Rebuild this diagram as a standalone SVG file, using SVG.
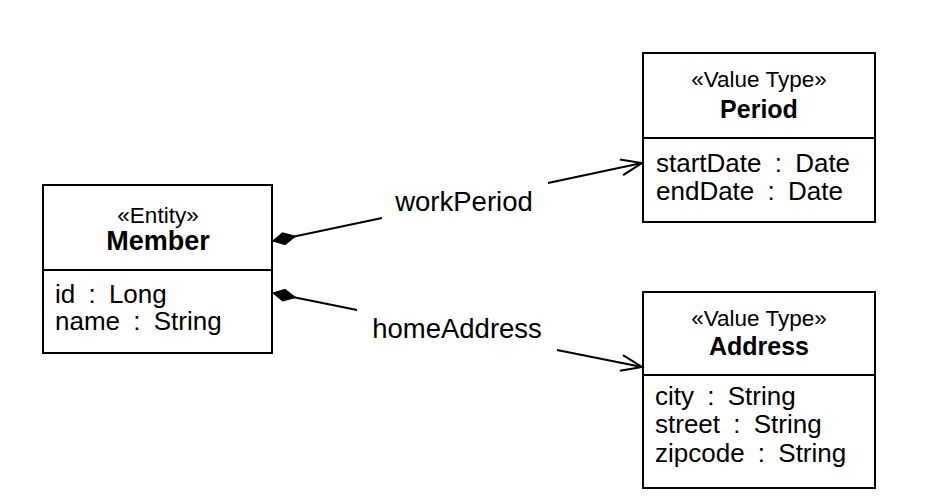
<svg xmlns="http://www.w3.org/2000/svg" width="930" height="499" viewBox="0 0 930 499">
<defs>
<style>
.box{fill:#fff;stroke:#000;stroke-width:2}
.div{stroke:#000;stroke-width:2}
text{font-family:"Liberation Sans",Arial,sans-serif;fill:#000}
.st{font-size:22.5px;text-anchor:middle}
.tt{font-size:25px;font-weight:bold;text-anchor:middle}
.at{font-size:26px;word-spacing:6px}
.lb{font-size:27.5px;text-anchor:middle}
.cn{stroke:#000;stroke-width:2;fill:none}
</style>
<marker id="diamond" markerUnits="userSpaceOnUse" markerWidth="30" markerHeight="20" refX="0" refY="0" orient="auto" overflow="visible">
<path d="M0,0 L11,-6 L23,0 L11,6 Z" fill="#000" stroke="#000" stroke-width="1"/>
</marker>
<marker id="open" markerUnits="userSpaceOnUse" markerWidth="30" markerHeight="20" refX="0" refY="0" orient="auto" overflow="visible">
<path d="M-21,-8 L0,0 L-21,8" fill="none" stroke="#000" stroke-width="2"/>
</marker>
</defs>
<rect width="930" height="499" fill="#fff"/>
<g id="member">
<rect class="box" x="43" y="185" width="229" height="168"/>
<line class="div" x1="43" y1="270" x2="272" y2="270"/>
<text class="st" x="158" y="223">«Entity»</text>
<text class="tt" x="158" y="250" style="font-size:27px">Member</text>
<text class="at" x="55" y="303">id : Long</text>
<text class="at" x="55" y="330">name : String</text>
</g>
<g id="period">
<rect class="box" x="643" y="53" width="232" height="169"/>
<line class="div" x1="643" y1="138" x2="875" y2="138"/>
<text class="st" x="759" y="87">«Value Type»</text>
<text class="tt" x="759" y="118">Period</text>
<text class="at" x="656" y="172">startDate : Date</text>
<text class="at" x="656" y="200">endDate : Date</text>
</g>
<g id="address">
<rect class="box" x="643" y="292" width="232" height="196"/>
<line class="div" x1="643" y1="375" x2="875" y2="375"/>
<text class="st" x="759" y="326">«Value Type»</text>
<text class="tt" x="759" y="355">Address</text>
<text class="at" x="655" y="405">city : String</text>
<text class="at" x="655" y="433">street : String</text>
<text class="at" x="655" y="462">zipcode : String</text>
</g>
<g id="connectors">
<line class="cn" x1="273" y1="241" x2="382" y2="218" marker-start="url(#diamond)"/>
<line class="cn" x1="548" y1="183" x2="642" y2="163" marker-end="url(#open)"/>
<text class="lb" x="464" y="211">workPeriod</text>
<line class="cn" x1="273" y1="293" x2="357" y2="310" marker-start="url(#diamond)"/>
<line class="cn" x1="557" y1="350" x2="642" y2="367" marker-end="url(#open)"/>
<text class="lb" x="457" y="338">homeAddress</text>
</g>
</svg>
